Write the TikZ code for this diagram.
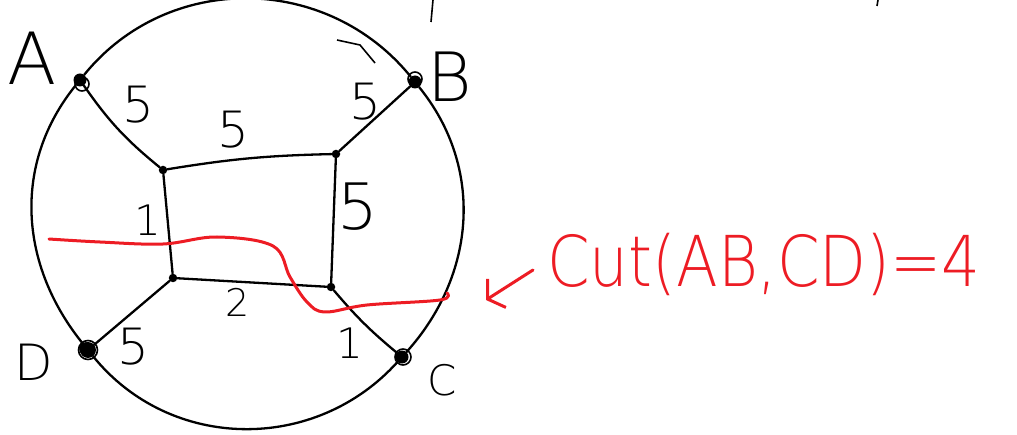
\documentclass[tikz,border=0pt]{standalone}
\usepackage{fontspec}
\newfontfamily\hand{DejaVu Sans ExtraLight}
\usetikzlibrary{arrows.meta}
\definecolor{penred}{RGB}{237,28,36}
\begin{document}
\begin{tikzpicture}[x=1pt,y=1pt,
  edge/.style={line width=2.3pt, black, line cap=round, line join=round},
  bignode/.style={circle, fill=black, inner sep=0pt, minimum size=13pt},
  smallnode/.style={circle, fill=black, inner sep=0pt, minimum size=8.5pt},
  scrib/.style={line width=1.6pt, black},
  lbl/.style={font=\hand\fontsize{#1}{#1}\selectfont, inner sep=0pt},
  lbl/.default=50,
  cutline/.style={penred, line width=3pt, line cap=round, line join=round}]
\useasboundingbox (0,0) rectangle (1017,434);
% vertices
\node[bignode] (A) at (80,354) {};
\node[bignode] (B) at (415,352) {};
\node[bignode] (C) at (402,77) {};
\node[bignode, minimum size=16pt] (D) at (88,84) {};
\node[smallnode] (P) at (163,264) {};
\node[smallnode] (Q) at (336,280) {};
\node[smallnode] (R) at (173,156) {};
\node[smallnode] (S) at (331,147) {};
% scribbles on the big vertices
\draw[scrib] (A) ++(2,-4) circle (7);
\draw[scrib] (B) ++(0,3) circle (7);
\draw[scrib] (C) ++(1,0) circle (8);
\draw[scrib] (D) circle (9.5);
\draw[scrib] (D) ++(-2,1) circle (6);
% outer circle arcs
\draw[edge] (A) to[out=51, in=129, looseness=1.04] (B);
\draw[edge] (B) to[out=-51, in=48] (C);
\draw[edge] (C) to[out=-132, in=-51, looseness=1.03] (D);
\draw[edge] (D) to[out=129, in=-129] (A);
% inner edges
\draw[edge] (A) to[bend right=8] (P);
\draw[edge] (P) to[bend left=4] (Q);
\draw[edge] (B) -- (Q);
\draw[edge] (Q) -- (S);
\draw[edge] (P) -- (R);
\draw[edge] (R) -- (S);
\draw[edge] (R) -- (D);
\draw[edge] (S) to[bend right=5] (C);
% edge weights
\node[lbl] (lAP) at (138,329) {5};
\node[lbl] (lPQ) at (233,304) {5};
\node[lbl] (lBQ) at (365,332) {5};
\node[lbl=64] (lQS) at (358,227) {5};
\node[lbl=42] (lPR) at (148,214) {1};
\node[lbl=38] (lRS) at (238,132) {2};
\node[lbl] (lRD) at (133,87) {5};
\node[lbl=42] (lSC) at (350,91) {1};
% vertex names
\node[lbl=72] (tA) at (32,376) {A};
\node[lbl=68] (tB) at (450,357) {B};
\node[lbl=42] (tC) at (442,54) {C};
\node[lbl=50] (tD) at (34,72) {D};
% stray pen marks
\draw[scrib] (433,434) -- (431,412);
\draw[scrib] (878,434) -- (877,428);
\draw[scrib] (337,394) -- (360,389) -- (375,371);
% the cut
\draw[cutline] plot[smooth, tension=0.6] coordinates {(49,195) (100,192) (163,190) (217,197) (273,188) (290,157) (307,132) (325,122) (367,129) (440,134) (447,141)};
\coordinate (arrS) at (533,164);
\coordinate (arrE) at (486,134);
\draw[cutline, -{Straight Barb[length=11pt, width=34pt, line width=3pt]}] (arrS) -- (arrE);
\node[lbl=61, text=penred, yscale=1.15] (cut) at (764,170) {Cut(AB,CD)=4};
\end{tikzpicture}
\end{document}
